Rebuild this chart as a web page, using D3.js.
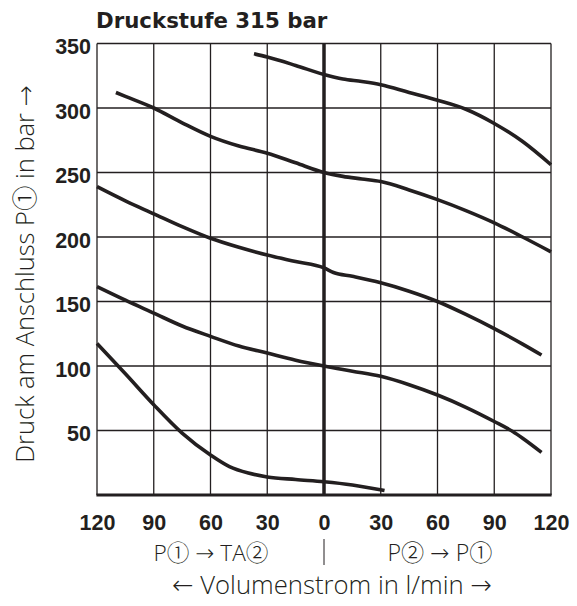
<!DOCTYPE html>
<html>
<head>
<meta charset="utf-8">
<script src="https://cdn.jsdelivr.net/npm/d3@7"></script>
<style>
  html, body { margin: 0; padding: 0; background: #fff; }
  svg { display: block; }
</style>
</head>
<body>
<svg id="chart" width="577" height="606"></svg>
<script>
// ---- Data (flow in l/min: negative = P1 -> TA2 side, positive = P2 -> P1 side) ----
const title = "Druckstufe 315 bar";
const yTitle = "Druck am Anschluss P\u2460 in bar \u2192";
const xTitle = "\u2190 Volumenstrom in l/min \u2192";
const leftDirLabel = "P\u2460 \u2192 TA\u2461";
const rightDirLabel = "P\u2461 \u2192 P\u2460";
const xTicks = [-120, -90, -60, -30, 0, 30, 60, 90, 120];
const yTicks = [50, 100, 150, 200, 250, 300, 350];

const curveA = [[-37,342],[-30,339.5],[-15,333],[0,326],[10,322.5],[20,320.5],[30,318],[45,312],[60,306],[75,299],[90,288],[105,274],[120,256]];
const curveB = [[-110,312],[-105,309],[-90,300],[-75,288.5],[-60,278],[-45,270.5],[-30,265],[-15,257.5],[0,250],[10,247],[20,245],[30,243],[45,236.5],[60,229],[75,220.5],[90,211],[105,200],[120,188.5]];
const curveC = [[-120,239],[-105,228],[-90,218],[-75,208],[-60,199],[-45,192],[-30,186],[-15,181],[0,176],[5,172.5],[15,169.5],[30,164.5],[45,158],[60,150],[75,140],[90,129],[105,117],[115,108.5]];
const curveD = [[-120,161.5],[-105,151],[-90,141],[-75,131],[-60,123],[-45,115.5],[-30,110],[-15,104.5],[0,100],[15,96],[30,92],[45,85.5],[60,77.5],[75,68],[90,57],[100,49],[105,44],[115,33]];
const curveE = [[-120,117.5],[-105,94],[-90,70],[-75,48],[-60,31],[-50,22],[-40,17],[-30,14],[-15,12],[0,10.3],[15,7.8],[32,3.5]];
const curves = [curveA, curveB, curveC, curveD, curveE];

// ---- Layout ----
const svg = d3.select("#chart");
const L = 97, R = 551, T = 43.5, B = 495;
const x = d3.scaleLinear().domain([-120, 120]).range([L, R]);
const y = d3.scaleLinear().domain([0, 350]).range([B, T]);
const ink = "#231f20";
const lightFont = "'Open Sans', 'DejaVu Sans', sans-serif";
const circFont = "'Noto Sans CJK JP', 'DejaVu Sans', sans-serif";
const titleFont = "'DejaVu Sans', sans-serif";
const tickFont = "'Liberation Sans', Arial, sans-serif";

// grid
const g = svg.append("g");
g.selectAll("line.v").data(xTicks).join("line")
  .attr("x1", d => x(d)).attr("x2", d => x(d))
  .attr("y1", T).attr("y2", B)
  .attr("stroke", ink).attr("stroke-width", 1.3);
g.selectAll("line.h").data(yTicks).join("line")
  .attr("x1", L).attr("x2", R)
  .attr("y1", d => y(d)).attr("y2", d => y(d))
  .attr("stroke", ink).attr("stroke-width", 1.3);

// center thick line and bottom axis
g.append("line").attr("x1", x(0)).attr("x2", x(0)).attr("y1", T).attr("y2", B)
  .attr("stroke", ink).attr("stroke-width", 3.5);
g.append("line").attr("x1", L - 0.6).attr("x2", R + 0.6).attr("y1", y(0)).attr("y2", y(0))
  .attr("stroke", ink).attr("stroke-width", 3.2);

// curves
const line = d3.line().x(d => x(d[0])).y(d => y(d[1])).curve(d3.curveMonotoneX);
svg.append("g").selectAll("path").data(curves).join("path")
  .attr("d", line)
  .attr("fill", "none")
  .attr("stroke", ink)
  .attr("stroke-width", 3.6)
  .attr("stroke-linecap", "butt");

// axes labels via d3 axes
const xAxis = d3.axisBottom(x).tickValues(xTicks).tickSize(0).tickPadding(0)
  .tickFormat(d => String(Math.abs(d)));
const xg = svg.append("g").attr("transform", `translate(0,${B})`).call(xAxis);
xg.select(".domain").remove();
xg.selectAll("text").attr("y", 34.5).attr("dy", null)
  .attr("font-family", tickFont).attr("font-weight", "bold").attr("font-size", 21.5)
  .attr("fill", ink);

const yAxis = d3.axisLeft(y).tickValues(yTicks).tickSize(0).tickPadding(0);
const yg = svg.append("g").attr("transform", `translate(${L - 6},0)`).call(yAxis);
yg.select(".domain").remove();
yg.selectAll("text").attr("x", 0).attr("dy", "0.47em")
  .attr("font-family", tickFont).attr("font-weight", "bold").attr("font-size", 21.5)
  .attr("fill", ink);

// title
svg.append("text").attr("x", L - 1).attr("y", 28)
  .attr("font-family", titleFont).attr("font-weight", "bold").attr("font-size", 21.3)
  .attr("fill", ink).text(title);

// text with circled digits rendered from a CJK font (outlined circles)
function richText(sel, str) {
  const runs = [];
  for (const ch of str) {
    const circ = ch >= "\u2460" && ch <= "\u2473";
    if (runs.length && runs[runs.length - 1].circ === circ) runs[runs.length - 1].s += ch;
    else runs.push({ circ, s: ch });
  }
  runs.forEach(r => {
    const t = sel.append("tspan").text(r.s);
    if (r.circ) t.attr("font-family", circFont).attr("font-weight", 300);
  });
  return sel;
}
function fit(sel, target, base) {
  sel.attr("font-size", base);
  const w = sel.node().getComputedTextLength();
  sel.attr("font-size", base * target / w);
}

// direction labels
const dl = svg.append("text").attr("x", 211).attr("y", 561).attr("text-anchor", "middle")
  .attr("font-family", lightFont).attr("font-weight", 300).attr("fill", ink);
richText(dl, leftDirLabel);
fit(dl, 115, 22);
const dr = svg.append("text").attr("x", 440).attr("y", 561).attr("text-anchor", "middle")
  .attr("font-family", lightFont).attr("font-weight", 300).attr("fill", ink);
richText(dr, rightDirLabel);
fit(dr, 105, 22);
svg.append("line").attr("x1", x(0)).attr("x2", x(0)).attr("y1", 539).attr("y2", 565)
  .attr("stroke", ink).attr("stroke-width", 1);

// x title
const xt = svg.append("text").attr("x", 332).attr("y", 594).attr("text-anchor", "middle")
  .attr("font-family", lightFont).attr("font-weight", 300).attr("fill", ink).text(xTitle);
fit(xt, 320, 22);

// y title
const yt = svg.append("text").attr("transform", `translate(34,274) rotate(-90)`)
  .attr("text-anchor", "middle")
  .attr("font-family", lightFont).attr("font-weight", 300).attr("fill", ink);
richText(yt, yTitle);
fit(yt, 378, 22);
</script>
</body>
</html>
